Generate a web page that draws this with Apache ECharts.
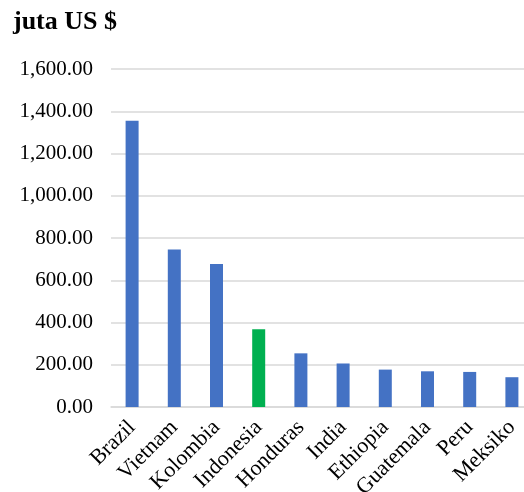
<!DOCTYPE html>
<html>
<head>
<meta charset="utf-8">
<script src="https://cdn.jsdelivr.net/npm/echarts@6/dist/echarts.min.js"></script>
<style>
  html, body { margin: 0; padding: 0; background: #fff; overflow: hidden; }
  /* canvas is a little wider than the page so the plot runs off the right edge */
  #chart { width: 533px; height: 492px; }
</style>
</head>
<body>
<div id="chart"></div>
<script>
// Export value by country, in millions of US dollars
const countries = ['Brazil', 'Vietnam', 'Kolombia', 'Indonesia', 'Honduras', 'India', 'Ethiopia', 'Guatemala', 'Peru', 'Meksiko'];
const exportValues = [1355, 746, 677, 368, 254, 206, 177, 169, 166, 141];
const highlightCountry = 'Indonesia';
const yTicks = { min: 0, max: 1600, step: 200 };

const BLUE = '#4472C4';
const GREEN = '#00B050';
const FONT = '"Liberation Serif", "Times New Roman", serif';

const chart = echarts.init(document.getElementById('chart'), null, { renderer: 'canvas' });

chart.setOption({
  animation: false,
  backgroundColor: '#fff',
  title: {
    text: 'juta US $',
    left: 8,
    top: 4,
    textStyle: { fontFamily: FONT, fontSize: 26, fontWeight: 'bold', color: '#000' }
  },
  // fixed plot rectangle; rotated labels may run past the bottom edge
  grid: { left: 111, right: 0, top: 69, bottom: 85, containLabel: false, outerBoundsMode: 'none' },
  xAxis: {
    type: 'category',
    data: countries,
    axisLine: { lineStyle: { color: '#d9d9d9', width: 1.5 } },
    axisTick: { show: false },
    axisLabel: {
      interval: 0,
      rotate: 45,
      margin: 17,
      fontFamily: FONT,
      fontSize: 22,
      color: '#000'
    }
  },
  yAxis: {
    type: 'value',
    min: yTicks.min,
    max: yTicks.max,
    interval: yTicks.step,
    axisLine: { show: false },
    axisTick: { show: false },
    splitLine: { lineStyle: { color: '#d9d9d9', width: 1.5 } },
    axisLabel: {
      margin: 18,
      fontFamily: FONT,
      fontSize: 21,
      color: '#000',
      formatter: v => v.toLocaleString('en-US', { minimumFractionDigits: 2, maximumFractionDigits: 2 })
    }
  },
  series: [{
    type: 'bar',
    barWidth: 13,
    data: countries.map((c, i) => ({
      value: exportValues[i],
      itemStyle: { color: c === highlightCountry ? GREEN : BLUE }
    }))
  }]
});
</script>
</body>
</html>
